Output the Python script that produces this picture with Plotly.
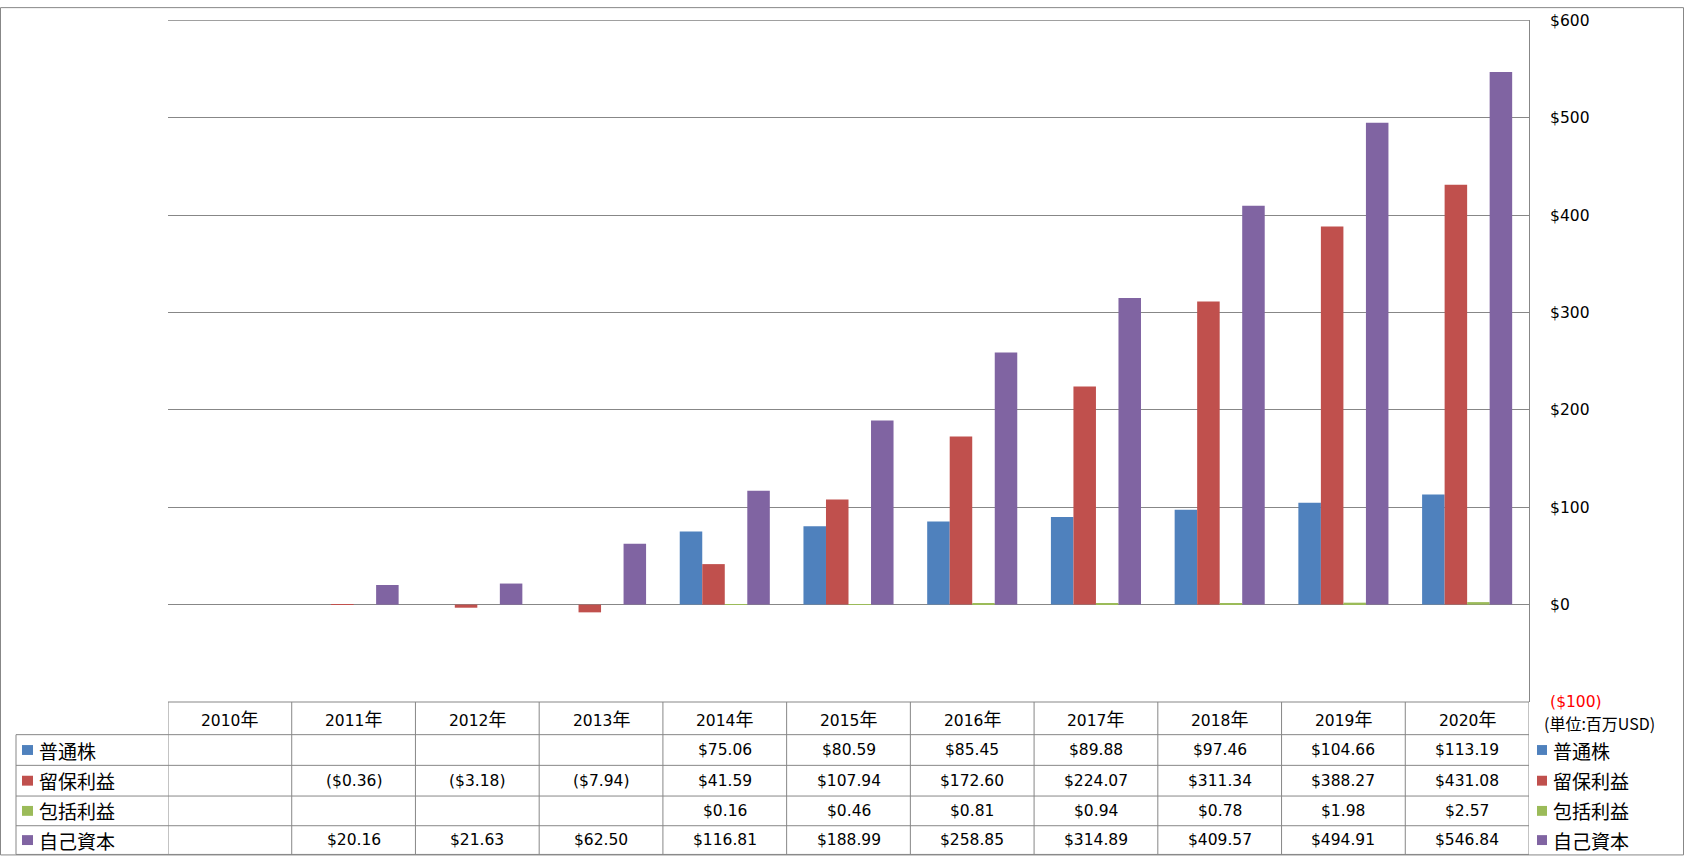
import plotly.graph_objects as go

# ---------------- data ----------------
years = ["2010年", "2011年", "2012年", "2013年", "2014年", "2015年",
         "2016年", "2017年", "2018年", "2019年", "2020年"]
series_names = ["普通株", "留保利益", "包括利益", "自己資本"]
common_stock = [None, None, None, None, 75.06, 80.59, 85.45, 89.88, 97.46, 104.66, 113.19]
retained_earnings = [None, -0.36, -3.18, -7.94, 41.59, 107.94, 172.60, 224.07, 311.34, 388.27, 431.08]
comprehensive_income = [None, None, None, None, 0.16, 0.46, 0.81, 0.94, 0.78, 1.98, 2.57]
equity = [None, 20.16, 21.63, 62.50, 116.81, 188.99, 258.85, 314.89, 409.57, 494.91, 546.84]
y_ticks = [-100, 0, 100, 200, 300, 400, 500, 600]
unit_label = "(単位:百万USD)"

series_values = [common_stock, retained_earnings, comprehensive_income, equity]
colors = ["#4F81BD", "#C0504D", "#9BBB59", "#8064A2"]

# ---------------- layout geometry (pixels) ----------------
W, H = 1685, 858
L, R, T, B = 168, 1529, 13, 702
PW, PH = R - L, B - T
LATIN = "DejaVu Sans, Noto Sans CJK JP, sans-serif"
CJK = "Noto Sans CJK JP, sans-serif"
GRID = "#878787"
NUM_SIZE = 15.5
CJK_SIZE = 19


def px_x(p):
    return (p - L) / PW


def px_y(p):
    return (B - p) / PH


def money(v):
    if v is None:
        return ""
    if v < 0:
        return f"(${abs(v):.2f})"
    return f"${v:.2f}"


def tick_label(v):
    if v < 0:
        return f"<span style='color:#FF0000'>(${abs(v)})</span>"
    return f"${v}"


def year_label(y):
    # Latin digits in the number font, trailing kanji slightly larger (as in the reference)
    return f"{y[:-1]}<span style='font-size:18px;font-family:Noto Sans CJK JP'>{y[-1]}</span>"


fig = go.Figure()
for name, vals, col in zip(series_names, series_values, colors):
    fig.add_trace(go.Bar(x=years, y=vals, name=name, marker_color=col,
                         marker_line_width=0, showlegend=False))

row_edges = [702, 735, 766, 797, 827, 856]
shapes = []
annotations = []
line = dict(color=GRID, width=1)

# top gridline (plotly hides gridlines lying on the plot edge)
shapes.append(dict(type="line", xref="paper", yref="y", x0=0, x1=1,
                   y0=max(y_ticks), y1=max(y_ticks), line=line, layer="below"))
# header top line
shapes.append(dict(type="line", xref="paper", yref="paper", x0=0, x1=1,
                   y0=px_y(row_edges[0]), y1=px_y(row_edges[0]), line=line))
# row lines
for e in row_edges[1:]:
    shapes.append(dict(type="line", xref="paper", yref="paper", x0=px_x(16), x1=1,
                       y0=px_y(e), y1=px_y(e), line=line))
# vertical lines between categories
for k in range(len(years) + 1):
    shapes.append(dict(type="line", xref="x", yref="paper", x0=k - 0.5, x1=k - 0.5,
                       y0=px_y(row_edges[0]), y1=px_y(row_edges[-1]), line=line))
# label column left border
shapes.append(dict(type="line", xref="paper", yref="paper", x0=px_x(16), x1=px_x(16),
                   y0=px_y(row_edges[1]), y1=px_y(row_edges[-1]), line=line))
# outer chart border
shapes.append(dict(type="rect", xref="paper", yref="paper",
                   x0=px_x(0.5), x1=px_x(W - 1.5), y0=px_y(H - 1.5), y1=px_y(0.5),
                   line=line, fillcolor="rgba(0,0,0,0)"))

# header
hy = (row_edges[0] + row_edges[1]) / 2
for yr in years:
    annotations.append(dict(x=yr, xref="x", y=px_y(hy), yref="paper", text=year_label(yr),
                            showarrow=False, xanchor="center", yanchor="middle",
                            font=dict(family=LATIN, size=NUM_SIZE, color="#000")))

# data rows
for i, (name, vals, col) in enumerate(zip(series_names, series_values, colors)):
    cy = (row_edges[i + 1] + row_edges[i + 2]) / 2
    # left label
    shapes.append(dict(type="rect", xref="paper", yref="paper",
                       x0=px_x(22), x1=px_x(33), y0=px_y(cy + 5), y1=px_y(cy - 5),
                       line=dict(width=0), fillcolor=col))
    annotations.append(dict(x=px_x(37), xref="paper", y=px_y(cy), yref="paper", text=name,
                            showarrow=False, xanchor="left", yanchor="middle",
                            font=dict(family=CJK, size=CJK_SIZE, color="#000")))
    # right legend
    shapes.append(dict(type="rect", xref="paper", yref="paper",
                       x0=px_x(1537), x1=px_x(1547), y0=px_y(cy + 5), y1=px_y(cy - 5),
                       line=dict(width=0), fillcolor=col))
    annotations.append(dict(x=px_x(1551), xref="paper", y=px_y(cy), yref="paper", text=name,
                            showarrow=False, xanchor="left", yanchor="middle",
                            font=dict(family=CJK, size=CJK_SIZE, color="#000")))
    for yr, v in zip(years, vals):
        if v is None:
            continue
        annotations.append(dict(x=yr, xref="x", y=px_y(cy), yref="paper", text=money(v),
                                showarrow=False, xanchor="center", yanchor="middle",
                                font=dict(family=LATIN, size=NUM_SIZE, color="#000")))

annotations.append(dict(x=px_x(1542), xref="paper", y=px_y(723), yref="paper", text=unit_label,
                        showarrow=False, xanchor="left", yanchor="middle",
                        font=dict(family=CJK, size=16, color="#000")))

fig.update_layout(
    width=W, height=H,
    margin=dict(l=L, r=W - R, t=T, b=H - B),
    paper_bgcolor="white", plot_bgcolor="white",
    barmode="group", bargap=0.272, bargroupgap=0,
    font=dict(family=LATIN, size=NUM_SIZE, color="#000"),
    shapes=shapes, annotations=annotations,
    xaxis=dict(type="category", categoryarray=years, range=[-0.5, len(years) - 0.5],
               showticklabels=False, showgrid=False, zeroline=False, showline=False,
               ticks="", fixedrange=True),
    yaxis=dict(side="right", range=[-100, 600.3], tickvals=y_ticks,
               ticktext=[tick_label(v) for v in y_ticks],
               showgrid=True, gridcolor=GRID, gridwidth=1,
               zeroline=True, zerolinecolor=GRID, zerolinewidth=1,
               showline=True, linecolor=GRID, linewidth=1,
               ticks="", ticklabelstandoff=17,
               tickfont=dict(family=LATIN, size=NUM_SIZE, color="#000"), fixedrange=True),
)

fig.write_html("out.html",
               config={"displayModeBar": False},
               post_script="document.body.style.margin='0';document.body.style.padding='0';"
                           "document.documentElement.style.overflow='hidden';")
